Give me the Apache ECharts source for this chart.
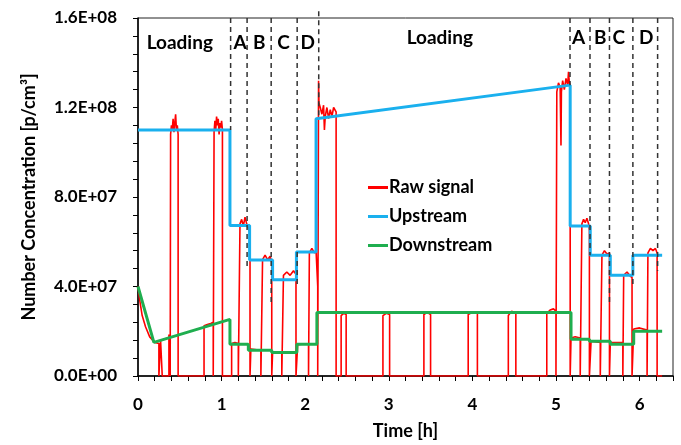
<!DOCTYPE html>
<html>
<head>
<meta charset="utf-8">
<script src="https://cdn.jsdelivr.net/npm/echarts@6/dist/echarts.min.js"></script>
<style>
  html, body { margin: 0; padding: 0; background: #fff; }
  #chart { width: 681px; height: 445px; }
</style>
</head>
<body>
<div id="chart"></div>
<script>
// tick labels
const yTickLabels = ['0.0E+00', '4.0E+07', '8.0E+07', '1.2E+08', '1.6E+08']
const xTickLabels = ['0', '1', '2', '3', '4', '5', '6']

// upstream / downstream step lines
const upTime = [0, 1.10, 1.10, 1.335, 1.335, 1.61, 1.61, 1.895, 1.895, 2.13, 2.13, 5.17, 5.17, 5.41, 5.41, 5.65, 5.65, 5.92, 5.92, 6.27]
const upConc = [1.10e8, 1.10e8, 6.73e7, 6.73e7, 5.18e7, 5.18e7, 4.3e7, 4.3e7, 5.54e7, 5.54e7, 1.15e8, 1.30e8, 6.7e7, 6.7e7, 5.4e7, 5.4e7, 4.5e7, 4.5e7, 5.4e7, 5.4e7]

const downTime = [0, 0.19, 1.10, 1.10, 1.32, 1.32, 1.60, 1.60, 1.90, 1.90, 2.14, 2.14, 5.18, 5.18, 5.40, 5.40, 5.65, 5.65, 5.93, 5.93, 6.27]
const downConc = [4.0e7, 1.5e7, 2.53e7, 1.42e7, 1.42e7, 1.15e7, 1.15e7, 1.05e7, 1.05e7, 1.42e7, 1.42e7, 2.84e7, 2.84e7, 1.64e7, 1.64e7, 1.55e7, 1.55e7, 1.42e7, 1.42e7, 2.0e7, 2.0e7]

// raw signal
const rawTime = [
  0, 0.02, 0.05, 0.09, 0.14, 0.20, 0.25, 0.25,
  0.27, 0.27, 0.29, 0.29,
  0.37, 0.37, 0.385, 0.385,
  0.39, 0.39, 0.40, 0.41, 0.42, 0.43, 0.44, 0.45, 0.46, 0.47, 0.48, 0.48,
  0.79, 0.79, 0.83, 0.87, 0.90, 0.90,
  0.91, 0.91, 0.92, 0.93, 0.94, 0.95, 0.96, 0.97, 0.98, 0.99, 1.00, 1.01, 1.01,
  1.12, 1.12, 1.16, 1.20, 1.20,
  1.22, 1.22, 1.24, 1.26, 1.28, 1.30, 1.32, 1.34, 1.34,
  1.35, 1.35, 1.47, 1.47,
  1.49, 1.49, 1.52, 1.55, 1.58, 1.60, 1.60,
  1.61, 1.61, 1.72, 1.72,
  1.74, 1.74, 1.78, 1.82, 1.86, 1.89, 1.89,
  1.91, 1.91, 2.04, 2.04,
  2.05, 2.05, 2.08, 2.11, 2.13, 2.15, 2.15,
  2.16, 2.16, 2.165, 2.18, 2.20, 2.22, 2.23, 2.24, 2.26, 2.28, 2.30, 2.32, 2.34, 2.37, 2.37,
  2.43, 2.43, 2.46, 2.49, 2.49,
  2.93, 2.93, 2.97, 3.01, 3.01,
  3.42, 3.42, 3.46, 3.50, 3.50,
  3.95, 3.95, 4.00, 4.06, 4.06,
  4.43, 4.43, 4.47, 4.52, 4.52,
  4.89, 4.89, 4.93, 4.97, 5.00, 5.00,
  5.01, 5.01, 5.03, 5.05, 5.06, 5.065, 5.08, 5.10, 5.12, 5.14, 5.15, 5.16, 5.17, 5.17,
  5.18, 5.18, 5.23, 5.29, 5.29,
  5.31, 5.31, 5.33, 5.35, 5.37, 5.39, 5.40, 5.40,
  5.42, 5.42, 5.53, 5.53,
  5.55, 5.55, 5.58, 5.61, 5.64, 5.64,
  5.65, 5.65, 5.80, 5.80,
  5.81, 5.81, 5.85, 5.88, 5.91, 5.91,
  5.93, 5.93, 6.00, 6.09, 6.09,
  6.10, 6.10, 6.13, 6.16, 6.19, 6.21, 6.21,
  6.27
]
const rawConc = [
  4.0e7, 3.4e7, 2.7e7, 2.2e7, 1.75e7, 1.5e7, 1.45e7, 0,
  0, 1.6e7, 1.55e7, 0,
  0, 1.85e7, 1.9e7, 0,
  0, 1.08e8, 1.12e8, 1.10e8, 1.15e8, 1.09e8, 1.13e8, 1.17e8, 1.10e8, 1.12e8, 1.08e8, 0,
  0, 2.25e7, 2.3e7, 2.35e7, 2.4e7, 0,
  0, 1.09e8, 1.14e8, 1.10e8, 1.16e8, 1.12e8, 1.15e8, 1.08e8, 1.13e8, 1.11e8, 1.14e8, 1.10e8, 0,
  0, 1.45e7, 1.5e7, 1.45e7, 0,
  0, 6.8e7, 7.0e7, 6.7e7, 7.1e7, 6.8e7, 6.6e7, 6.4e7, 0,
  0, 1.2e7, 1.15e7, 0,
  0, 5.2e7, 5.4e7, 5.2e7, 5.35e7, 5.1e7, 0,
  0, 1.05e7, 1.05e7, 0,
  0, 4.5e7, 4.65e7, 4.5e7, 4.7e7, 4.55e7, 0,
  0, 1.4e7, 1.45e7, 0,
  0, 5.5e7, 5.7e7, 5.5e7, 5.6e7, 4.0e7, 0,
  0, 1.32e8, 1.22e8, 1.20e8, 1.17e8, 1.21e8, 1.10e8, 1.16e8, 1.20e8, 1.15e8, 1.19e8, 1.16e8, 1.20e8, 1.18e8, 0,
  0, 2.7e7, 2.8e7, 2.75e7, 0,
  0, 2.7e7, 2.8e7, 2.75e7, 0,
  0, 2.75e7, 2.85e7, 2.75e7, 0,
  0, 2.75e7, 2.85e7, 2.8e7, 0,
  0, 2.7e7, 2.9e7, 2.8e7, 0,
  0, 2.8e7, 2.95e7, 3.0e7, 2.9e7, 0,
  0, 1.27e8, 1.31e8, 1.29e8, 1.03e8, 1.27e8, 1.32e8, 1.28e8, 1.33e8, 1.30e8, 1.36e8, 1.31e8, 1.30e8, 0,
  0, 1.7e7, 1.75e7, 1.7e7, 0,
  0, 6.8e7, 7.0e7, 6.85e7, 7.05e7, 6.8e7, 6.5e7, 0,
  0, 1.55e7, 1.5e7, 0,
  0, 5.4e7, 5.6e7, 5.45e7, 5.5e7, 0,
  0, 1.5e7, 1.5e7, 0,
  0, 4.5e7, 4.65e7, 4.5e7, 4.4e7, 0,
  0, 2.1e7, 2.15e7, 2.05e7, 0,
  0, 5.5e7, 5.7e7, 5.6e7, 5.7e7, 5.5e7, 0,
  0
]

// dashed phase dividers
const dividerTime = [1.108, 1.305, 1.593, 1.904, 2.162, 5.168, 5.407, 5.64, 5.92, 6.216]
const dividerTop = [1.6e8, 1.6e8, 1.6e8, 1.6e8, 1.63e8, 1.6e8, 1.6e8, 1.6e8, 1.6e8, 1.6e8]
const dividerBottom = [1.1e8, 4.8e7, 3.2e7, 4.1e7, 1.15e8, 1.3e8, 5.4e7, 3.2e7, 4.0e7, 4.7e7]

// phase labels
const phaseText = ['Loading', 'A', 'B', 'C', 'D', 'Loading', 'A', 'B', 'C', 'D']
const phaseTime = [0.50, 1.22, 1.45, 1.74, 2.03, 3.61, 5.27, 5.53, 5.75, 6.08]
const phaseConc = [1.49e8, 1.49e8, 1.49e8, 1.49e8, 1.49e8, 1.51e8, 1.51e8, 1.51e8, 1.51e8, 1.51e8]

const FONT = 'Lato'
const zip = (xs, ys) => xs.map((x, i) => [x, ys[i]])

const chart = echarts.init(document.getElementById('chart'))

const dividerSeries = dividerTime.map((t, i) => ({
  type: 'line',
  data: [[t, dividerTop[i]], [t, dividerBottom[i]]],
  symbol: 'none',
  clip: false,
  silent: true,
  z: 5,
  lineStyle: { color: '#333', width: 1.5, type: [5, 4] }
}))

const option = {
  animation: false,
  grid: { left: 138, right: 8, top: 18, bottom: 66, show: true, borderColor: '#222', borderWidth: 1 },
  legend: {
    data: ['Raw signal', 'Upstream', 'Downstream'],
    orient: 'vertical',
    left: 363,
    top: 172,
    icon: 'rect',
    itemWidth: 20,
    itemHeight: 3,
    itemGap: 8,
    textStyle: { fontFamily: FONT, fontSize: 18, fontWeight: 'bold', color: '#000', lineHeight: 21, padding: [0, 0, 0, -4] }
  },
  xAxis: {
    type: 'value',
    min: 0,
    max: 6.4,
    interval: 0.2,
    name: 'Time [h]',
    nameLocation: 'middle',
    nameGap: 46,
    nameTextStyle: { fontFamily: FONT, fontSize: 18, fontWeight: 'bold', color: '#000' },
    axisLine: { lineStyle: { color: '#000', width: 1.5 } },
    axisTick: { length: 5, lineStyle: { color: '#000', width: 1 } },
    axisLabel: {
      margin: 20,
      fontFamily: FONT, fontSize: 17, fontWeight: 'bold', color: '#000',
      formatter: v => {
        const k = Math.round(v)
        return Math.abs(v - k) < 1e-6 && xTickLabels[k] !== undefined ? xTickLabels[k] : ''
      }
    },
    splitLine: { show: false }
  },
  yAxis: {
    type: 'value',
    min: 0,
    max: 1.6e8,
    interval: 8e6,
    name: 'Number Concentration [p/cm³]',
    nameLocation: 'middle',
    nameGap: 100,
    nameTextStyle: { fontFamily: FONT, fontSize: 18, fontWeight: 'bold', color: '#000' },
    axisLine: { show: true, lineStyle: { color: '#000', width: 1.5 } },
    axisTick: { show: true, length: 5, lineStyle: { color: '#000', width: 1 } },
    axisLabel: {
      margin: 21,
      fontFamily: FONT, fontSize: 17, fontWeight: 'bold', color: '#000',
      formatter: v => {
        const k = Math.round(v / 4e7)
        return Math.abs(v - k * 4e7) < 1 ? yTickLabels[k] : ''
      }
    },
    splitLine: { show: false }
  },
  series: [
    {
      name: 'Raw signal',
      type: 'line',
      data: zip(rawTime, rawConc),
      symbol: 'none',
      z: 2,
      lineStyle: { color: '#ff0000', width: 1.6 },
      itemStyle: { color: '#ff0000' }
    },
    {
      name: 'Upstream',
      type: 'line',
      data: zip(upTime, upConc),
      symbol: 'none',
      z: 3,
      lineStyle: { color: '#1ab0ee', width: 3 },
      itemStyle: { color: '#1ab0ee' }
    },
    {
      name: 'Downstream',
      type: 'line',
      data: zip(downTime, downConc),
      symbol: 'none',
      z: 4,
      lineStyle: { color: '#1fae4f', width: 3 },
      itemStyle: { color: '#1fae4f' }
    },
    ...dividerSeries,
    {
      type: 'scatter',
      data: phaseTime.map((t, i) => ({ value: [t, phaseConc[i]], name: phaseText[i] })),
      symbolSize: 0,
      silent: true,
      z: 6,
      itemStyle: { opacity: 1 },
      label: {
        show: true,
        position: 'inside',
        formatter: p => p.name,
        fontFamily: FONT, fontSize: 19, fontWeight: 'bold', color: '#000', opacity: 1
      }
    }
  ]
}

chart.setOption(option)
</script>
</body>
</html>
